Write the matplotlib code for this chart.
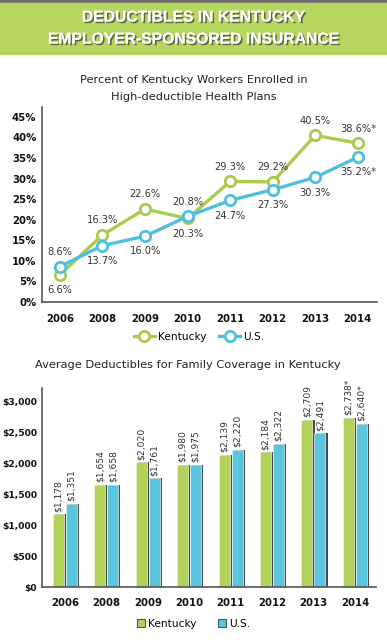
import matplotlib
matplotlib.use("Agg")
import matplotlib.pyplot as plt
import matplotlib.patheffects as pe
from matplotlib.patches import Rectangle
from matplotlib.lines import Line2D
import numpy as np

years = ['2006', '2008', '2009', '2010', '2011', '2012', '2013', '2014']

# percent enrolled in high-deductible plans
ky_pct = [6.6, 16.3, 22.6, 20.3, 29.3, 29.2, 40.5, 38.6]
us_pct = [8.6, 13.7, 16.0, 20.8, 24.7, 27.3, 30.3, 35.2]
ky_pct_labels = ['6.6%', '16.3%', '22.6%', '20.3%', '29.3%', '29.2%', '40.5%', '38.6%*']
us_pct_labels = ['8.6%', '13.7%', '16.0%', '20.8%', '24.7%', '27.3%', '30.3%', '35.2%*']
ky_pct_above = [False, True, True, False, True, True, True, True]
us_pct_above = [True, False, False, True, False, False, False, False]

# average family deductible
ky_ded = [1178, 1654, 2020, 1980, 2139, 2184, 2709, 2738]
us_ded = [1351, 1658, 1761, 1975, 2220, 2322, 2491, 2640]
ky_ded_labels = ['$1,178', '$1,654', '$2,020', '$1,980', '$2,139', '$2,184', '$2,709', '$2,738*']
us_ded_labels = ['$1,351', '$1,658', '$1,761', '$1,975', '$2,220', '$2,322', '$2,491', '$2,640*']

GREEN = '#B3D25A'
GREEN_LINE = '#A9CC4C'
BLUE = '#5BC5DE'
BLUE_LINE = '#4EC0DD'
TXT = '#333333'

W, H = 387, 640
fig = plt.figure(figsize=(W / 100, H / 100), dpi=100)


def px_axes(left, top, right, bottom):
    return fig.add_axes([left / W, 1 - bottom / H, (right - left) / W, (bottom - top) / H])


# header band
fig.patches.append(Rectangle((0, 1 - 3 / H), 1, 3 / H, transform=fig.transFigure,
                             color='#6b6b6b', zorder=0))
fig.patches.append(Rectangle((0, 1 - 54 / H), 1, 51 / H, transform=fig.transFigure,
                             color='#B6D65E', zorder=0))
shadow = [pe.withSimplePatchShadow(offset=(1.2, -1.2), shadow_rgbFace='#3a3a3a', alpha=0.7),
          pe.Normal()]
for txt, y in [('DEDUCTIBLES IN KENTUCKY', 17), ('EMPLOYER-SPONSORED INSURANCE', 39)]:
    fig.text(0.5, 1 - y / H, txt, ha='center', va='center', color='white',
             fontsize=11.3, fontweight='bold', family='Liberation Sans',
             path_effects=shadow)

fig.text(0.5, 1 - 80 / H, 'Percent of Kentucky Workers Enrolled in', ha='center',
         va='center', fontsize=8.2, color='#222222')
fig.text(0.5, 1 - 97 / H, 'High-deductible Health Plans', ha='center',
         va='center', fontsize=8.2, color='#222222')

# ---- line chart ----
ax1 = px_axes(42, 107, 377, 302)
x = np.arange(len(years))
ax1.plot(x, ky_pct, color=GREEN_LINE, lw=2.4, marker='o', ms=7.5, mfc='white',
         mec=GREEN_LINE, mew=2, zorder=3)
ax1.plot(x, us_pct, color=BLUE_LINE, lw=2.4, marker='o', ms=7.5, mfc='white',
         mec=BLUE_LINE, mew=2, zorder=3)
for vals, labs, above in [(ky_pct, ky_pct_labels, ky_pct_above),
                          (us_pct, us_pct_labels, us_pct_above)]:
    for i, (v, s, a) in enumerate(zip(vals, labs, above)):
        ax1.annotate(s, (i, v), xytext=(0, 10.5 if a else -11), textcoords='offset points',
                     ha='center', va='center', fontsize=7.1, color=TXT)
ax1.set_xlim(-0.42, 7.45)
ax1.set_ylim(0, 47.4)
ax1.set_yticks(range(0, 50, 5))
ax1.set_yticklabels([f'{t}%' for t in range(0, 50, 5)])
ax1.set_xticks(x)
ax1.set_xticklabels(years)
for s in ['top', 'right']:
    ax1.spines[s].set_visible(False)
for s in ['left', 'bottom']:
    ax1.spines[s].set_color('#555555')
    ax1.spines[s].set_linewidth(1.2)
ax1.tick_params(length=0, labelsize=7.3, colors='#111111', pad=4)
ax1.tick_params(axis='x', pad=9)
for lab in ax1.get_xticklabels() + ax1.get_yticklabels():
    lab.set_fontweight('bold')

handles = [Line2D([], [], color=GREEN_LINE, lw=2.4, marker='o', ms=7.5, mfc='white',
                  mec=GREEN_LINE, mew=2),
           Line2D([], [], color=BLUE_LINE, lw=2.4, marker='o', ms=7.5, mfc='white',
                  mec=BLUE_LINE, mew=2)]
fig.legend(handles, ['Kentucky', 'U.S.'], loc='center', bbox_to_anchor=(0.515, 1 - 337 / H),
           ncol=2, frameon=False, fontsize=7.6, handlelength=2.0, handletextpad=0.3,
           columnspacing=1.2)

# ---- bar chart ----
fig.text(188 / W, 1 - 365 / H, 'Average Deductibles for Family Coverage in Kentucky',
         ha='center', va='center', fontsize=8.2, color='#222222')
ax2 = px_axes(42, 388, 376, 587)
bw = 0.265
off = 0.157
sh = 0.05
ax2.bar(x - off + sh, ky_ded, bw, color='#4a4a4a', zorder=1)
ax2.bar(x + off + sh, us_ded, bw, color='#4a4a4a', zorder=1)
ax2.bar(x - off, ky_ded, bw, color=GREEN, edgecolor='#eef5d8', lw=0.5, zorder=2)
ax2.bar(x + off, us_ded, bw, color=BLUE, edgecolor='#d8f0f6', lw=0.5, zorder=2)
for vals, labs, o in [(ky_ded, ky_ded_labels, -off), (us_ded, us_ded_labels, off)]:
    for i, (v, s) in enumerate(zip(vals, labs)):
        ax2.annotate(s, (i + o, v), xytext=(0, 2), textcoords='offset points',
                     ha='center', va='bottom', rotation=90, fontsize=6.6, color=TXT)
ax2.set_xlim(-0.555, 7.51)
ax2.set_ylim(0, 3227)
ax2.set_yticks(range(0, 3500, 500))
ax2.set_yticklabels([f'${t:,}' for t in range(0, 3500, 500)])
ax2.set_xticks(x)
ax2.set_xticklabels(years)
for s in ['top', 'right']:
    ax2.spines[s].set_visible(False)
for s in ['left', 'bottom']:
    ax2.spines[s].set_color('#555555')
    ax2.spines[s].set_linewidth(1.2)
ax2.tick_params(length=0, labelsize=7.3, colors='#111111', pad=4)
ax2.tick_params(axis='y', labelsize=6.6, pad=3.5)
ax2.tick_params(axis='x', pad=8)
for lab in ax2.get_xticklabels() + ax2.get_yticklabels():
    lab.set_fontweight('bold')

bh = [Rectangle((0, 0), 1, 1, facecolor=GREEN, edgecolor='#555555', lw=0.8),
      Rectangle((0, 0), 1, 1, facecolor=BLUE, edgecolor='#555555', lw=0.8)]
fig.legend(bh, ['Kentucky', 'U.S.'], loc='center', bbox_to_anchor=(0.5, 1 - 624 / H),
           ncol=2, frameon=False, fontsize=7.6, handlelength=0.8, handleheight=0.8,
           handletextpad=0.3, columnspacing=2.0)

fig.savefig('out.png', dpi=100)
